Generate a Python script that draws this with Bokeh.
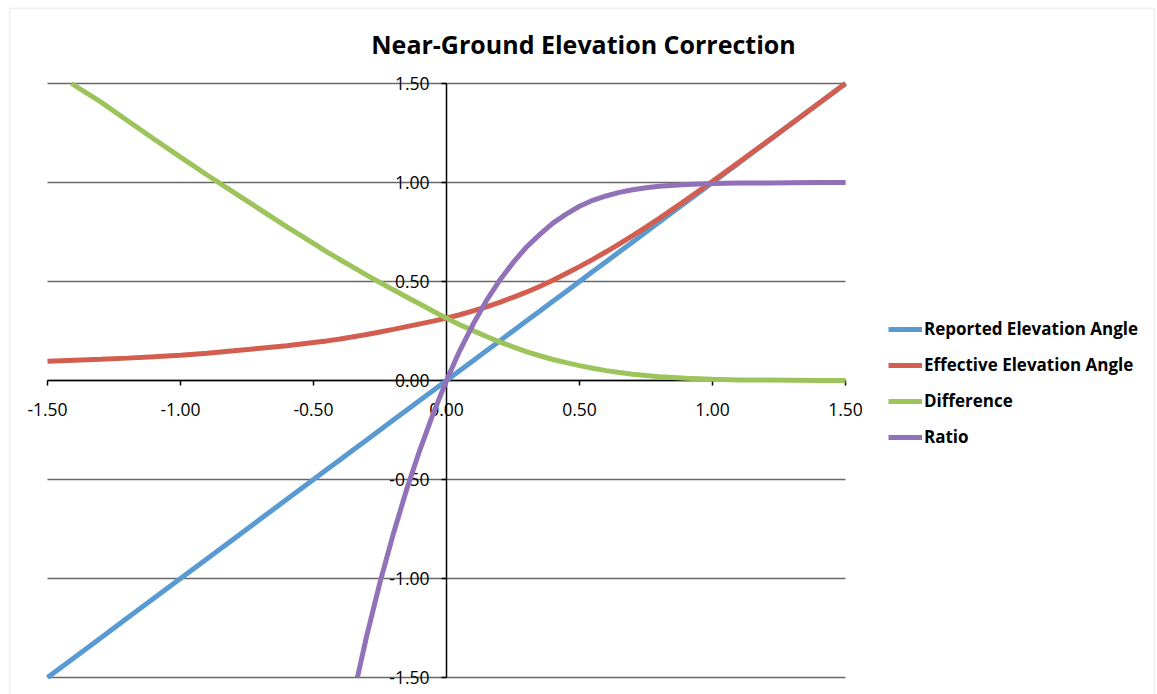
from bokeh.plotting import figure
from bokeh.models import (Range1d, LinearAxis, FixedTicker, NumeralTickFormatter,
                          Legend, LegendItem, Label, BoxAnnotation)
from bokeh.embed import file_html
from bokeh.resources import INLINE

# ---- data ----
x_vals = [-1.5, -1.4, -1.3, -1.2, -1.1, -1.0, -0.9, -0.8, -0.7, -0.6, -0.5, -0.45,
          -0.4, -0.35, -0.3, -0.25, -0.2, -0.15, -0.1, -0.05, 0.0, 0.05, 0.1, 0.15,
          0.2, 0.25, 0.3, 0.35, 0.4, 0.45, 0.5, 0.55, 0.6, 0.65, 0.7, 0.75, 0.8,
          0.9, 1.0, 1.1, 1.2, 1.3, 1.4, 1.5]
reported = [-1.5, -1.4, -1.3, -1.2, -1.1, -1.0, -0.9, -0.8, -0.7, -0.6, -0.5, -0.45,
            -0.4, -0.35, -0.3, -0.25, -0.2, -0.15, -0.1, -0.05, 0.0, 0.05, 0.1, 0.15,
            0.2, 0.25, 0.3, 0.35, 0.4, 0.45, 0.5, 0.55, 0.6, 0.65, 0.7, 0.75, 0.8,
            0.9, 1.0, 1.1, 1.2, 1.3, 1.4, 1.5]
effective = [0.097, 0.102, 0.107, 0.113, 0.120, 0.128, 0.138, 0.150, 0.163, 0.176, 0.192, 0.200,
             0.210, 0.221, 0.232, 0.245, 0.258, 0.272, 0.286, 0.300, 0.315, 0.332, 0.352, 0.372,
             0.395, 0.420, 0.446, 0.475, 0.506, 0.540, 0.575, 0.612, 0.650, 0.690, 0.732, 0.775, 0.819,
             0.911, 1.006, 1.103, 1.202, 1.301, 1.400, 1.500]
# the difference curve enters the plot through its top edge near x = -1.41
diff_x = [-1.41, -1.3, -1.2, -1.1, -1.0, -0.9, -0.8, -0.7, -0.6, -0.5, -0.45,
          -0.4, -0.35, -0.3, -0.25, -0.2, -0.15, -0.1, -0.05, 0.0, 0.05, 0.1, 0.15,
          0.2, 0.25, 0.3, 0.35, 0.4, 0.45, 0.5, 0.55, 0.6, 0.65, 0.7, 0.75, 0.8,
          0.9, 1.0, 1.1, 1.2, 1.3, 1.4, 1.5]
difference = [1.500, 1.407, 1.313, 1.220, 1.128, 1.038, 0.950, 0.863, 0.776, 0.692, 0.650,
              0.610, 0.571, 0.532, 0.495, 0.458, 0.422, 0.386, 0.350, 0.315, 0.282, 0.252, 0.222,
              0.195, 0.170, 0.146, 0.125, 0.106, 0.090, 0.075, 0.062, 0.050, 0.040, 0.032, 0.025, 0.019,
              0.011, 0.006, 0.003, 0.002, 0.001, 0.000, 0.000]
# the ratio curve enters the plot through its bottom edge near x = -0.335
ratio_x = [-0.335, -0.3, -0.25, -0.2, -0.15, -0.1, -0.05, 0.0, 0.05, 0.1, 0.15, 0.2, 0.25, 0.3,
           0.35, 0.4, 0.45, 0.5, 0.55, 0.6, 0.65, 0.7, 0.75, 0.8, 0.9, 1.0, 1.1, 1.2, 1.3, 1.4, 1.5]
ratio = [-1.50, -1.29, -1.02, -0.775, -0.551, -0.350, -0.167, 0.0, 0.151, 0.284, 0.403, 0.506,
         0.595, 0.673, 0.737, 0.795, 0.840, 0.880, 0.910, 0.932, 0.950, 0.963, 0.973, 0.981,
         0.990, 0.995, 0.997, 0.998, 0.999, 1.0, 1.0]
tick_values = [-1.5, -1.0, -0.5, 0.0, 0.5, 1.0, 1.5]
series_names = ["Reported Elevation Angle", "Effective Elevation Angle", "Difference", "Ratio"]
series_colors = ["#5A9AD3", "#D35E50", "#9DC45B", "#9171B8"]
title_text = "Near-Ground Elevation Correction"

# ---- layout (pixels) ----
W, H = 1157, 694
PL, PR, PT, PB = 47, 845, 83, 677          # plot-area edges in the picture
LO, HI = -1.5, 1.5                         # axis limits of the plot area
kx = (PR - PL) / (HI - LO)
ky = (PB - PT) / (HI - LO)
x_range = Range1d(LO - PL / kx, HI + (W - PR) / kx)
y_range = Range1d(LO - (H - PB) / ky, HI + PT / ky)

FONT = "Open Sans"

p = figure(width=W, height=H, output_backend="svg", toolbar_location=None,
           x_range=x_range, y_range=y_range,
           x_axis_type=None, y_axis_type=None, title=None,
           min_border=0, min_border_left=0, min_border_right=0,
           min_border_top=0, min_border_bottom=0)
p.outline_line_color = None
p.background_fill_color = "white"
p.border_fill_color = "white"

# horizontal gridlines across the plot area only
p.segment(x0=[LO] * len(tick_values), y0=tick_values, x1=[HI] * len(tick_values), y1=tick_values,
          line_color="#686868", line_width=1.5, level="underlay")

# axes crossing at zero
xaxis = LinearAxis(fixed_location=0, ticker=FixedTicker(ticks=tick_values),
                   formatter=NumeralTickFormatter(format="0.00"), bounds=(LO, HI))
yaxis = LinearAxis(fixed_location=0, ticker=FixedTicker(ticks=tick_values),
                   formatter=NumeralTickFormatter(format="0.00"), bounds=(LO, HI))
for ax in (xaxis, yaxis):
    ax.axis_line_color = "black"
    ax.axis_line_width = 1.5
    ax.major_tick_line_color = "black"
    ax.major_tick_line_width = 1.5
    ax.major_tick_in = 0
    ax.major_tick_out = 5
    ax.minor_tick_line_color = None
    ax.major_label_text_font = FONT
    ax.major_label_text_font_size = "17.5px"
    ax.major_label_text_color = "black"
    ax.level = "underlay"
xaxis.major_label_standoff = 17
yaxis.major_label_standoff = 12
p.add_layout(xaxis, "below")
p.add_layout(yaxis, "left")

r_rep = p.line(x_vals, reported, line_color=series_colors[0], line_width=5)
r_eff = p.line(x_vals, effective, line_color=series_colors[1], line_width=5)
r_dif = p.line(diff_x, difference, line_color=series_colors[2], line_width=5)
r_rat = p.line(ratio_x, ratio, line_color=series_colors[3], line_width=5)

legend = Legend(items=[LegendItem(label=n, renderers=[r]) for n, r in
                       zip(series_names, [r_rep, r_eff, r_dif, r_rat])],
                location=(888, H - 448), orientation="vertical",
                glyph_width=34, glyph_height=20, label_height=20, spacing=13,
                label_standoff=2, padding=0, margin=0,
                border_line_color=None, background_fill_alpha=0,
                label_text_font=FONT, label_text_font_size="17px",
                label_text_font_style="bold", label_text_color="black")
p.add_layout(legend)

title = Label(x=583, y=H - 43, x_units="screen", y_units="screen", text=title_text,
              text_font=FONT, text_font_size="25px", text_font_style="bold",
              text_align="center", text_baseline="middle", text_color="black")
p.add_layout(title)

border = BoxAnnotation(left=9, right=W - 3, top=H - 8, bottom=-10,
                       left_units="screen", right_units="screen",
                       top_units="screen", bottom_units="screen",
                       fill_alpha=0, line_color="#d4d4d4", line_width=2)
p.add_layout(border)

open("out.html", "w").write(file_html(p, INLINE))
